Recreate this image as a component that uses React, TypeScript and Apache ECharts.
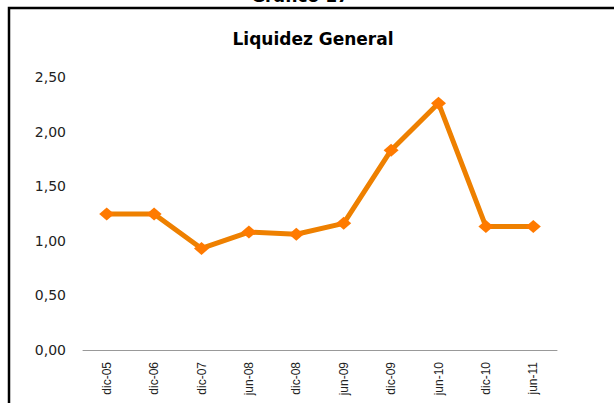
import React, { useEffect, useRef } from "react";
import * as echarts from "echarts";

const categories = ["dic-05", "dic-06", "dic-07", "jun-08", "dic-08", "jun-09", "dic-09", "jun-10", "dic-10", "jun-11"];
const liquidez = [1.245, 1.245, 0.93, 1.08, 1.06, 1.16, 1.83, 2.26, 1.13, 1.13];
const chartTitle = "Liquidez General";
const topTitle = "Gráfico 17";

export default function App() {
  const ref = useRef<HTMLDivElement>(null);
  useEffect(() => {
    if (!ref.current) return;
    const chart = echarts.init(ref.current, undefined, { renderer: "svg" });
    chart.setOption({
      animation: false,
      backgroundColor: "#ffffff",
      textStyle: { fontFamily: "Liberation Sans, Arial, sans-serif" },
      graphic: [
        {
          type: "rect",
          shape: { x: 9, y: 8, width: 640, height: 440 },
          style: { fill: "none", stroke: "#000", lineWidth: 2.5 },
          z: 10,
        },
        {
          type: "text",
          x: 300,
          y: -13,
          style: {
            text: topTitle,
            font: "bold 17px DejaVu Sans, sans-serif",
            fill: "#000",
            textAlign: "center",
            textVerticalAlign: "top",
          },
        },
      ],
      title: {
        text: chartTitle,
        left: 308,
        top: 25,
        textAlign: "center",
        textStyle: {
          fontSize: 17,
          fontWeight: "bold",
          color: "#000",
          fontFamily: "DejaVu Sans, sans-serif",
        },
      },
      grid: { left: 83, right: 57, top: 77, bottom: 53 },
      xAxis: {
        type: "category",
        data: categories,
        boundaryGap: true,
        axisLine: { lineStyle: { color: "#999", width: 1 } },
        axisTick: { show: false },
        axisLabel: {
          rotate: 90,
          margin: 12,
          fontSize: 12,
          color: "#222",
          interval: 0,
        },
      },
      yAxis: {
        type: "value",
        min: 0,
        max: 2.5,
        interval: 0.5,
        splitLine: { show: false },
        axisLine: { show: false },
        axisTick: { show: false },
        axisLabel: {
          margin: 17,
          fontSize: 14,
          color: "#222",
          fontFamily: "DejaVu Sans, sans-serif",
          formatter: (v: number) => v.toFixed(2).replace(".", ","),
        },
      },
      series: [
        {
          type: "line",
          data: liquidez,
          lineStyle: { color: "#EE8000", width: 5 },
          itemStyle: { color: "#FF7A00" },
          symbol: "diamond",
          symbolSize: [15, 13],
          showSymbol: true,
        },
      ],
    });
    return () => chart.dispose();
  }, []);
  return (
    <div
      ref={ref}
      style={{ position: "fixed", left: 0, top: 0, width: 614, height: 403 }}
    />
  );
}
